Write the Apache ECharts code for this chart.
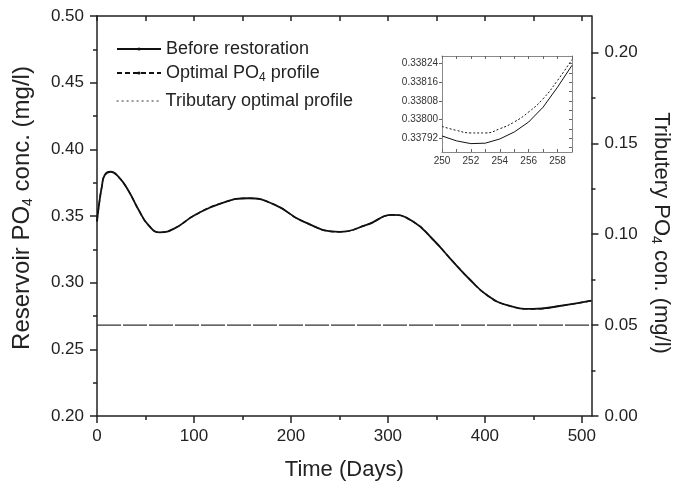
<!DOCTYPE html>
<html>
<head>
<meta charset="utf-8">
<script src="https://cdn.jsdelivr.net/npm/echarts@6/dist/echarts.min.js"></script>
<style>
html, body { margin: 0; padding: 0; background: #fff; }
#chart { width: 680px; height: 488px; }
</style>
</head>
<body>
<div id="chart"></div>
<script>
// main curve (days / mg/l)
var mainDays = [0, 2, 5, 8, 14, 22, 32, 43, 53, 65, 80, 101, 128, 156, 183, 213, 250, 278, 305, 326, 347, 365, 385, 402, 422, 450, 477, 510];
var beforeValues = [0.346, 0.358, 0.372, 0.3807, 0.3832, 0.3795, 0.3695, 0.3545, 0.3432, 0.3377, 0.3407, 0.3507, 0.3595, 0.3633, 0.3585, 0.3458, 0.3381, 0.3433, 0.3508, 0.3458, 0.332, 0.3175, 0.302, 0.2908, 0.2833, 0.2803, 0.2825, 0.2865];
var optimalValues = [0.346, 0.358, 0.372, 0.3807, 0.3832, 0.3795, 0.3695, 0.3545, 0.3432, 0.3377, 0.3407, 0.3507, 0.3595, 0.3633, 0.3585, 0.3458, 0.3381, 0.3433, 0.3508, 0.3458, 0.332, 0.3175, 0.302, 0.2908, 0.2833, 0.2803, 0.2825, 0.2865];
// tributary profile (right axis)
var tributaryDays = [0, 510];
var tributaryValues = [0.05, 0.05];
// inset zoom
var insetDays = [250, 251, 252, 253, 254, 255, 256, 257, 258, 259];
var insetBefore = [0.337929, 0.337908, 0.337896, 0.337898, 0.337916, 0.337946, 0.337989, 0.338053, 0.338139, 0.338233];
var insetOptimal = [0.337970, 0.337953, 0.337942, 0.337942, 0.337960, 0.337989, 0.338032, 0.338089, 0.338168, 0.338258];
// tick labels
var xTicks = [0, 100, 200, 300, 400, 500];
var xMinorTicks = [50, 150, 250, 350, 450];
var xTopTicks = [0, 50, 100, 150, 200, 250, 300, 350, 400, 450, 500];
var rightTicks = [0, 0.05, 0.10, 0.15, 0.20];
var rightMinorTicks = [0.025, 0.075, 0.125, 0.175];
var insetXLabels = [250, 252, 254, 256, 258];
var insetXTicks = [250, 251, 252, 253, 254, 255, 256, 257, 258, 259];
var insetYLabels = [0.33792, 0.33800, 0.33808, 0.33816, 0.33824];
var insetYMinor = [0.33788, 0.33792, 0.33796, 0.33800, 0.33804, 0.33808, 0.33812, 0.33816, 0.33820, 0.33824];

function zip(a, b) {
	var out = [];
	for (var i = 0; i < a.length; i++) out.push([a[i], b[i]]);
	return out;
}

var font = 'Liberation Sans, Arial, sans-serif';
var ink = '#222';
var subRich = { s: { fontSize: 14, padding: [11, 0, 0, 0] } };

function legendAt(name, top, extra) {
	var l = {
		data: [name], left: 116, top: top, orient: 'vertical', padding: 0,
		itemWidth: 44, itemHeight: 4, itemGap: 0,
		textStyle: { fontSize: 18, color: ink, fontFamily: font, rich: { s: { fontSize: 12, padding: [10, 0, 0, 0] } } },
		formatter: function(n) { return n.replace('PO4', 'PO{s|4}'); }
	};
	for (var k in extra) l[k] = extra[k];
	return l;
}

var option = {
	animation: false,
	textStyle: { fontFamily: font },
	grid: [
		{ left: 97, right: 88, top: 16, bottom: 72 },
		{ left: 442, right: 108, top: 56, bottom: 336 }
	],
	legend: [
		legendAt('Before restoration', 40, {}),
		legendAt('Optimal PO4 profile', 64, {}),
		legendAt('Tributary optimal profile', 92, { lineStyle: { type: [2, 3], width: 1.2, color: '#333' }, itemStyle: { opacity: 0 } })
	],
	xAxis: [
		{ gridIndex: 0, type: 'value', position: 'bottom', min: 0, max: 510,
		  axisLine: { onZero: false, lineStyle: { color: ink, width: 1.5 } },
		  axisTick: { customValues: xTicks, length: 7, lineStyle: { width: 1.5 } },
		  axisLabel: { customValues: xTicks, fontSize: 17, color: ink, margin: 12 },
		  splitLine: { show: false },
		  name: 'Time (Days)', nameLocation: 'middle', nameGap: 43,
		  nameTextStyle: { fontSize: 22, color: ink } },
		{ gridIndex: 0, type: 'value', position: 'bottom', min: 0, max: 510,
		  axisLine: { show: false, onZero: false },
		  axisTick: { customValues: xMinorTicks, length: 4, lineStyle: { color: ink, width: 1.5 } },
		  axisLabel: { show: false }, splitLine: { show: false } },
		{ gridIndex: 0, type: 'value', position: 'top', min: 0, max: 510,
		  axisLine: { onZero: false, lineStyle: { color: ink, width: 1.5 } },
		  axisTick: { inside: true, customValues: xTopTicks, length: 5, lineStyle: { width: 1.5 } },
		  axisLabel: { show: false }, splitLine: { show: false } },
		{ gridIndex: 1, type: 'value', position: 'bottom', min: 250, max: 259,
		  axisLine: { onZero: false, lineStyle: { color: '#888', width: 1 } },
		  axisTick: { inside: true, customValues: insetXTicks, length: 3, lineStyle: { color: '#666' } },
		  axisLabel: { customValues: insetXLabels, fontSize: 10, color: '#333', margin: 4 },
		  splitLine: { show: false } },
		{ gridIndex: 1, type: 'value', position: 'top', min: 250, max: 259,
		  axisLine: { onZero: false, lineStyle: { color: '#888', width: 1 } },
		  axisTick: { inside: true, customValues: insetXTicks, length: 3, lineStyle: { color: '#666' } },
		  axisLabel: { show: false }, splitLine: { show: false } }
	],
	yAxis: [
		{ gridIndex: 0, type: 'value', position: 'left', min: 0.2, max: 0.5, interval: 0.05,
		  axisLine: { show: true, onZero: false, lineStyle: { color: ink, width: 1.5 } },
		  axisTick: { show: true, length: 7, lineStyle: { width: 1.5 } },
		  minorTick: { show: true, splitNumber: 2, length: 4, lineStyle: { color: ink, width: 1.5 } },
		  axisLabel: { fontSize: 17, color: ink, margin: 13, formatter: function(v) { return v.toFixed(2); } },
		  splitLine: { show: false },
		  name: 'Reservoir PO{s|4} conc. (mg/l)', nameLocation: 'middle', nameGap: 62,
		  nameTextStyle: { fontSize: 24, color: ink, rich: subRich, padding: [0, 0, 0, 16] } },
		{ gridIndex: 0, type: 'value', position: 'right', min: 0, max: 0.22,
		  axisLine: { show: true, onZero: false, lineStyle: { color: ink, width: 1.5 } },
		  axisTick: { show: true, customValues: rightTicks, length: 7, lineStyle: { width: 1.5 } },
		  axisLabel: { customValues: rightTicks, fontSize: 17, color: ink, margin: 13, formatter: function(v) { return v.toFixed(2); } },
		  splitLine: { show: false },
		  name: 'Tributery PO{s|4} con. (mg/l)', nameLocation: 'middle', nameGap: 56, nameRotate: -90,
		  nameTextStyle: { fontSize: 22, color: ink, rich: subRich, padding: [0, 0, 0, 34] } },
		{ gridIndex: 0, type: 'value', position: 'right', min: 0, max: 0.22,
		  axisLine: { show: false, onZero: false },
		  axisTick: { show: true, customValues: rightMinorTicks, length: 4, lineStyle: { color: ink, width: 1.5 } },
		  axisLabel: { show: false }, splitLine: { show: false } },
		{ gridIndex: 1, type: 'value', position: 'left', min: 0.33786, max: 0.338273,
		  axisLine: { show: true, onZero: false, lineStyle: { color: '#888', width: 1 } },
		  axisTick: { show: true, customValues: insetYLabels, length: 3, lineStyle: { color: '#666' } },
		  axisLabel: { customValues: insetYLabels, fontSize: 10, color: '#333', margin: 4, formatter: function(v) { return v.toFixed(5); } },
		  splitLine: { show: false } },
		{ gridIndex: 1, type: 'value', position: 'right', min: 0.33786, max: 0.338273,
		  axisLine: { show: true, onZero: false, lineStyle: { color: '#888', width: 1 } },
		  axisTick: { show: true, inside: true, customValues: insetYMinor, length: 3, lineStyle: { color: '#666' } },
		  axisLabel: { show: false }, splitLine: { show: false } }
	],
	series: [
		{ name: 'Before restoration', type: 'line', xAxisIndex: 0, yAxisIndex: 0,
		  data: zip(mainDays, beforeValues), smooth: true, symbol: 'circle', symbolSize: 3, showSymbol: false,
		  itemStyle: { color: '#111' }, lineStyle: { color: '#111', width: 1.8 } },
		{ name: 'Optimal PO4 profile', type: 'line', xAxisIndex: 0, yAxisIndex: 0,
		  data: zip(mainDays, optimalValues), smooth: true, symbol: 'circle', symbolSize: 3, showSymbol: false,
		  itemStyle: { color: '#111' }, lineStyle: { color: '#111', width: 1.4, type: [5, 3] } },
		{ name: 'Tributary optimal profile', type: 'line', xAxisIndex: 0, yAxisIndex: 1,
		  data: zip(tributaryDays, tributaryValues), symbol: 'none',
		  itemStyle: { color: '#333' }, lineStyle: { color: '#333', width: 1.2, type: [24, 2] } },
		{ name: 'inset before', type: 'line', xAxisIndex: 3, yAxisIndex: 3,
		  data: zip(insetDays, insetBefore), symbol: 'none',
		  lineStyle: { color: '#111', width: 1 } },
		{ name: 'inset optimal', type: 'line', xAxisIndex: 3, yAxisIndex: 3,
		  data: zip(insetDays, insetOptimal), symbol: 'none', smooth: true,
		  lineStyle: { color: '#111', width: 1, type: [2, 2] } }
	]
};

var myChart = echarts.init(document.getElementById('chart'));
myChart.setOption(option);
</script>
</body>
</html>
